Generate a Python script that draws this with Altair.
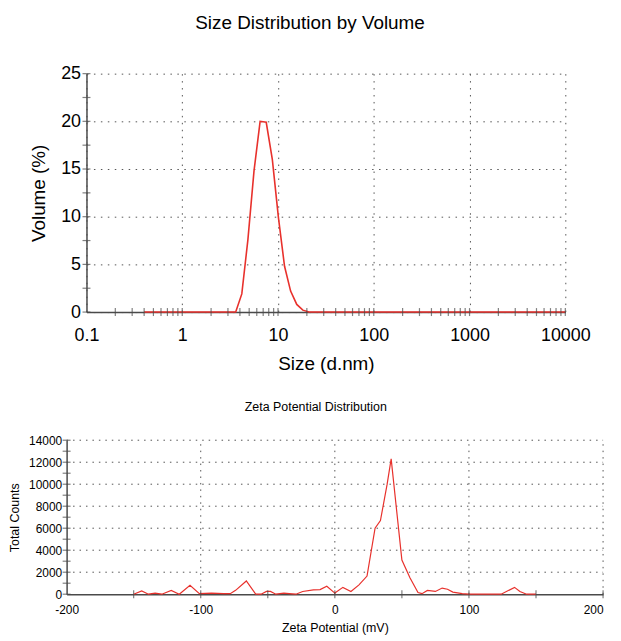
import altair as alt
import pandas as pd

# ---------------- data ----------------
size_nm = [0.4, 0.4632, 0.5365, 0.6213, 0.7195, 0.8332, 0.9649, 1.117, 1.294, 1.499,
           1.736, 2.010, 2.328, 2.696, 3.122, 3.615, 4.187, 4.849, 5.615, 6.503,
           7.531, 8.721, 10.10, 11.70, 13.54, 15.69, 18.17, 21.04, 24.36, 28.21,
           32.67, 37.84, 43.82, 50.75, 58.77, 68.06, 78.82, 91.28, 105.7, 122.4,
           141.8, 164.2, 190.1, 220.2, 255.0, 295.3, 342.0, 396.1, 458.7, 531.2,
           615.1, 712.4, 825.0, 955.4, 1106, 1281, 1484, 1718, 1990, 2305,
           2669, 3091, 3580, 4145, 4801, 5560, 6439, 7456, 8635, 10000]
volume_pct = [0, 0, 0, 0, 0, 0, 0, 0, 0, 0,
              0, 0, 0, 0, 0, 0, 1.9, 7.6, 14.8, 20.0,
              19.9, 16.0, 9.9, 4.8, 2.2, 0.8, 0.2, 0, 0, 0,
              0, 0, 0, 0, 0, 0, 0, 0, 0, 0,
              0, 0, 0, 0, 0, 0, 0, 0, 0, 0,
              0, 0, 0, 0, 0, 0, 0, 0, 0, 0,
              0, 0, 0, 0, 0, 0, 0, 0, 0, 0]

zeta_mv = [-150, -144, -139, -134, -129, -122, -116, -108, -101, -92,
           -83, -78, -74, -66, -59, -55, -51, -48, -44, -38,
           -34, -29, -24, -16, -11, -6, 0, 6, 12, 18,
           24, 30, 34, 39, 42, 50, 56, 62, 65, 69,
           75, 80, 84, 88, 95, 100, 110, 124, 134, 138,
           143, 150]
zeta_counts = [0, 300, 0, 100, 0, 350, 0, 800, 50, 100,
               50, 50, 350, 1200, 0, 0, 250, 250, 0, 100,
               50, 0, 250, 400, 420, 720, 100, 620, 250, 850,
               1650, 6000, 6700, 10000, 12300, 3100, 1500, 150, 50, 340,
               250, 560, 450, 190, 50, 0, 0, 0, 620, 250,
               0, 0]

size_major = [0.1, 1, 10, 100, 1000, 10000]
size_minor = [0.2, 0.3, 0.4, 0.5, 0.6, 0.7, 0.8, 0.9,
              2, 3, 4, 5, 6, 7, 8, 9,
              20, 30, 40, 50, 60, 70, 80, 90,
              200, 300, 400, 500, 600, 700, 800, 900,
              2000, 3000, 4000, 5000, 6000, 7000, 8000, 9000]
vol_major = [0, 5, 10, 15, 20, 25]
vol_minor = [2.5, 7.5, 12.5, 17.5, 22.5]

zeta_major = [-200, -100, 0, 100, 200]
zeta_minor = [-150, -50, 50, 150]
count_major = [0, 2000, 4000, 6000, 8000, 10000, 12000, 14000]
count_minor = [1000, 3000, 5000, 7000, 9000, 11000, 13000]

SIZE_DOMAIN = [0.1, 10000]
VOL_DOMAIN = [0, 25]
ZETA_DOMAIN = [-200, 200]
COUNT_DOMAIN = [0, 14000]

# ---------------- style ----------------
FONT = "Liberation Sans"
RED = "#e8312c"
AX = "#4a4a4a"
GRID = "#555555"
NO_VIEW = alt.ViewBackground(strokeWidth=0, strokeOpacity=0)


def axis(values, title, lsize, tsize, lpad, tpad, **kw):
    return alt.Axis(values=values, title=title, ticks=False,
                    domainColor=AX, domainWidth=1.5,
                    labelFontSize=lsize, labelPadding=lpad, labelFont=FONT,
                    labelColor="black", labelFlush=False, labelOverlap=False,
                    titleFontSize=tsize, titlePadding=tpad, titleFont=FONT,
                    titleFontWeight="normal", titleColor="black", **kw)


# ---------------- top chart ----------------
xs = alt.Scale(type="log", domain=SIZE_DOMAIN)
ys = alt.Scale(domain=VOL_DOMAIN, nice=False)
top_xaxis = axis(size_major, "Size (d.nm)", 18, 19, 15, 10, format="~g",
                 grid=True, gridDash=[1.5, 5.5], gridColor=GRID)
top_yaxis = axis(vol_major, "Volume (%)", 18, 19, 6, 12,
                 grid=True, gridDash=[1.5, 5.5], gridColor=GRID)

size_df = pd.DataFrame({"size": size_nm, "vol": volume_pct})
xt_df = pd.DataFrame({"t": size_major[1:] + size_minor})
xt_df["base"] = VOL_DOMAIN[0]
yt_df = pd.DataFrame({"t": vol_major + vol_minor})
yt_df["base"] = SIZE_DOMAIN[0]

top_line = alt.Chart(size_df).mark_line(color=RED, strokeWidth=1.6).encode(
    x=alt.X("size:Q", scale=xs, axis=top_xaxis),
    y=alt.Y("vol:Q", scale=ys, axis=top_yaxis),
)
top_xticks = alt.Chart(xt_df).mark_tick(
    orient="vertical", size=8, thickness=1.2, color=AX).encode(
    x=alt.X("t:Q", scale=xs, axis=top_xaxis),
    y=alt.Y("base:Q", scale=ys, axis=top_yaxis))
top_yticks = alt.Chart(yt_df).mark_tick(
    orient="horizontal", size=8, thickness=1.2, color=AX).encode(
    y=alt.Y("t:Q", scale=ys, axis=top_yaxis),
    x=alt.X("base:Q", scale=xs, axis=top_xaxis))

top = alt.layer(top_line, top_xticks, top_yticks).properties(
    width=482, height=240, view=NO_VIEW,
    title=alt.TitleParams("Size Distribution by Volume", fontSize=19, font=FONT,
                          fontWeight="normal", color="black", offset=32,
                          anchor="middle", frame="bounds"),
)

# ---------------- bottom chart ----------------
bx = alt.Scale(domain=ZETA_DOMAIN, range=[-20, 520], nice=False)
by = alt.Scale(domain=COUNT_DOMAIN, nice=False)
bot_xaxis = axis(zeta_major, "Zeta Potential (mV)", 12, 12.5, 10, 7,
                 grid=False, labelExpr="'' + datum.value",
                 labelAlign={"condition": {"test": "datum.value == 200", "value": "right"},
                             "value": "center"})
bot_yaxis = axis(count_major, "Total Counts", 12, 12.5, 5, 7,
                 grid=False, offset=20, labelExpr="'' + datum.value")

zeta_df = pd.DataFrame({"mv": zeta_mv, "counts": zeta_counts})
hg_df = pd.DataFrame({"c": count_major[1:]})
hg_df["lo"] = ZETA_DOMAIN[0]
hg_df["hi"] = ZETA_DOMAIN[1]
vg_df = pd.DataFrame({"z": zeta_major[1:]})
vg_df["lo"] = COUNT_DOMAIN[0]
vg_df["hi"] = COUNT_DOMAIN[1]
bxt_df = pd.DataFrame({"t": zeta_major[1:] + zeta_minor})
bxt_df["base"] = COUNT_DOMAIN[0]
byt_df = pd.DataFrame({"t": count_major + count_minor})
byt_df["base"] = ZETA_DOMAIN[0]

hgrid = alt.Chart(hg_df).mark_rule(
    strokeDash=[1.5, 5], color=GRID, strokeWidth=1).encode(
    y=alt.Y("c:Q", scale=by, axis=bot_yaxis),
    x=alt.X("lo:Q", scale=bx, axis=bot_xaxis), x2="hi:Q")
vgrid = alt.Chart(vg_df).mark_rule(
    strokeDash=[1.5, 5], color=GRID, strokeWidth=1).encode(
    x=alt.X("z:Q", scale=bx, axis=bot_xaxis),
    y=alt.Y("lo:Q", scale=by, axis=bot_yaxis), y2="hi:Q")
bot_line = alt.Chart(zeta_df).mark_line(color=RED, strokeWidth=1.2).encode(
    x=alt.X("mv:Q", scale=bx, axis=bot_xaxis),
    y=alt.Y("counts:Q", scale=by, axis=bot_yaxis),
)
bot_xticks = alt.Chart(bxt_df).mark_tick(
    orient="vertical", size=8, thickness=1.2, color=AX).encode(
    x=alt.X("t:Q", scale=bx, axis=bot_xaxis),
    y=alt.Y("base:Q", scale=by, axis=bot_yaxis))
bot_yticks = alt.Chart(byt_df).mark_tick(
    orient="horizontal", size=8, thickness=1.2, color=AX).encode(
    y=alt.Y("t:Q", scale=by, axis=bot_yaxis),
    x=alt.X("base:Q", scale=bx, axis=bot_xaxis))

bottom = alt.layer(hgrid, vgrid, bot_line, bot_xticks, bot_yticks).properties(
    width=520, height=155, view=NO_VIEW,
    title=alt.TitleParams("Zeta Potential Distribution", fontSize=12.5, font=FONT,
                          fontWeight="normal", color="black", offset=21,
                          anchor="middle", frame="bounds"),
)

chart = alt.vconcat(top, bottom, spacing=27).properties(
    padding={"left": 0, "top": 4, "right": -10, "bottom": 0},
).configure_view(strokeWidth=0, strokeOpacity=0).configure(background="white")

chart.save("out.html", embed_options={"renderer": "svg", "actions": False})
